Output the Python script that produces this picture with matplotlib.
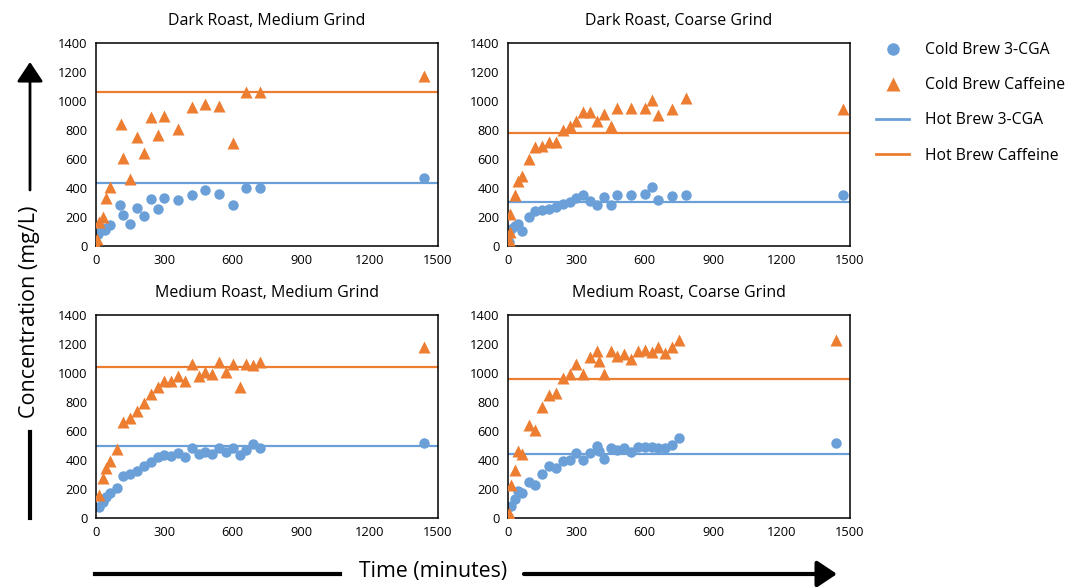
import matplotlib
matplotlib.use("Agg")
import matplotlib.pyplot as plt
from matplotlib.lines import Line2D

plt.rcParams['font.family'] = ['Open Sans', 'DejaVu Sans']

blue = '#6A9FD8'
orange = '#ED7D31'

titles = ["Dark Roast, Medium Grind", "Dark Roast, Coarse Grind",
          "Medium Roast, Medium Grind", "Medium Roast, Coarse Grind"]

# dark roast, medium grind
dm_cga_t = [0, 10, 25, 40, 60, 105, 120, 150, 180, 210, 240, 270, 300, 360, 420, 480, 540, 600, 660, 720, 1440]
dm_cga = [15, 85, 125, 108, 143, 280, 212, 155, 265, 208, 325, 258, 332, 318, 350, 383, 360, 286, 397, 397, 470]
dm_caf_t = [0, 5, 15, 30, 45, 60, 110, 120, 150, 180, 210, 240, 270, 300, 360, 420, 480, 540, 600, 660, 720, 1440]
dm_caf = [15, 50, 165, 200, 330, 410, 840, 605, 465, 750, 640, 890, 765, 900, 810, 960, 980, 965, 710, 1065, 1065, 1170]
dm_hot = [436, 1065]

# dark roast, coarse grind
dc_cga_t = [5, 15, 30, 45, 60, 90, 120, 150, 180, 210, 240, 270, 300, 330, 360, 390, 420, 450, 480, 540, 600, 630, 660, 720, 780, 1470]
dc_cga = [25, 115, 135, 150, 105, 200, 240, 250, 258, 270, 290, 305, 330, 350, 310, 285, 340, 280, 355, 355, 360, 410, 320, 345, 350, 355]
dc_caf_t = [5, 10, 10, 30, 45, 60, 90, 120, 150, 180, 210, 240, 270, 300, 330, 360, 390, 420, 450, 480, 540, 600, 630, 660, 720, 780, 1470]
dc_caf = [40, 100, 220, 355, 450, 485, 600, 680, 690, 720, 715, 800, 825, 865, 925, 925, 860, 910, 830, 955, 950, 955, 1010, 903, 944, 1018, 945]
dc_hot = [304, 778]

# medium roast, medium grind
mm_cga_t = [15, 30, 45, 60, 90, 120, 150, 180, 210, 240, 270, 300, 330, 360, 390, 420, 450, 480, 510, 540, 570, 600, 630, 660, 690, 720, 1440]
mm_cga = [75, 110, 145, 170, 205, 290, 305, 325, 360, 385, 420, 435, 430, 450, 420, 485, 440, 455, 440, 485, 455, 485, 435, 470, 510, 480, 515]
mm_caf_t = [15, 30, 45, 60, 90, 120, 150, 180, 210, 240, 270, 300, 330, 360, 390, 420, 450, 480, 510, 540, 570, 600, 630, 660, 690, 720, 1440]
mm_caf = [160, 275, 345, 390, 475, 665, 690, 735, 790, 855, 905, 945, 945, 980, 945, 1060, 980, 1010, 995, 1075, 1005, 1060, 905, 1060, 1055, 1075, 1180]
mm_hot = [494, 1039]

# medium roast, coarse grind
mc_cga_t = [0, 15, 30, 45, 60, 90, 120, 150, 180, 210, 240, 270, 300, 330, 360, 390, 400, 420, 450, 480, 510, 540, 570, 600, 630, 660, 690, 720, 750, 1440]
mc_cga = [10, 85, 130, 185, 175, 245, 225, 305, 360, 345, 395, 400, 450, 400, 450, 500, 460, 405, 485, 470, 485, 455, 490, 490, 490, 485, 485, 505, 555, 520]
mc_caf_t = [5, 15, 30, 45, 60, 90, 120, 150, 180, 210, 240, 270, 300, 330, 360, 390, 400, 420, 450, 480, 510, 540, 570, 600, 630, 660, 690, 720, 750, 1440]
mc_caf = [35, 225, 330, 465, 440, 640, 605, 765, 845, 860, 965, 990, 1060, 990, 1110, 1150, 1080, 990, 1155, 1120, 1130, 1095, 1150, 1160, 1145, 1180, 1135, 1180, 1230, 1225]
mc_hot = [440, 956]

panels = [
    (dm_cga_t, dm_cga, dm_caf_t, dm_caf, dm_hot),
    (dc_cga_t, dc_cga, dc_caf_t, dc_caf, dc_hot),
    (mm_cga_t, mm_cga, mm_caf_t, mm_caf, mm_hot),
    (mc_cga_t, mc_cga, mc_caf_t, mc_caf, mc_hot),
]

fig = plt.figure(figsize=(10.83, 5.87), dpi=100)

W = 342 / 1083
H = 203 / 587
lefts = [96 / 1083, 508 / 1083]
bottoms = [(587 - 246) / 587, (587 - 518) / 587]

for i, (ct, c, ft, f, hot) in enumerate(panels):
    ax = fig.add_axes([lefts[i % 2], bottoms[i // 2], W, H])
    ax.axhline(hot[0], color=blue, lw=1.6, zorder=1)
    ax.axhline(hot[1], color=orange, lw=1.6, zorder=1)
    ax.plot(ct, c, 'o', color=blue, ms=7.5, mec='none', zorder=2)
    ax.plot(ft, f, '^', color=orange, ms=8.5, mec='none', zorder=3)
    ax.set_xlim(0, 1500)
    ax.set_ylim(0, 1400)
    ax.set_xticks(range(0, 1501, 300))
    ax.set_yticks(range(0, 1401, 200))
    ax.tick_params(length=0, labelsize=9.3, pad=6)
    for s in ax.spines.values():
        s.set_linewidth(1.1)
    ax.set_title(titles[i], fontsize=11.5, pad=13)

handles = [
    Line2D([], [], ls='none', marker='o', color=blue, ms=9, mec='none'),
    Line2D([], [], ls='none', marker='^', color=orange, ms=10, mec='none'),
    Line2D([], [], color=blue, lw=2),
    Line2D([], [], color=orange, lw=2),
]
labels = ["Cold Brew 3-CGA", "Cold Brew Caffeine", "Hot Brew 3-CGA", "Hot Brew Caffeine"]
fig.legend(handles, labels, loc='upper left', bbox_to_anchor=(862 / 1083, 1 - 28 / 587),
           frameon=False, fontsize=11.3, labelspacing=1.22, handlelength=2.1, handletextpad=1.0)

# axis labels with arrows
fig.text(30 / 1083, 1 - 312 / 587, "Concentration (mg/L)", rotation=90, fontsize=15.5,
         ha='center', va='center')
fig.text(433 / 1083, 1 - 572 / 587, "Time (minutes)", fontsize=15.3, ha='center', va='center')
fig.add_artist(Line2D([30 / 1083, 30 / 1083], [1 - 432 / 587, 1 - 518 / 587], color='black', lw=3))
fig.add_artist(Line2D([95 / 1083, 340 / 1083], [1 - 574 / 587, 1 - 574 / 587], color='black', lw=3))
plt.annotate('', xy=(30 / 1083, 1 - 62 / 587), xytext=(30 / 1083, 1 - 190 / 587),
             xycoords='figure fraction',
             arrowprops=dict(arrowstyle='-|>,head_length=0.3,head_width=0.2', color='black',
                             lw=2, mutation_scale=40, shrinkA=0, shrinkB=0))
plt.annotate('', xy=(837 / 1083, 1 - 574 / 587), xytext=(524 / 1083, 1 - 574 / 587),
             xycoords='figure fraction',
             arrowprops=dict(arrowstyle='-|>,head_length=0.3,head_width=0.2', color='black',
                             lw=3, mutation_scale=40, shrinkA=0, shrinkB=0))

fig.savefig("out.png", dpi=100)
